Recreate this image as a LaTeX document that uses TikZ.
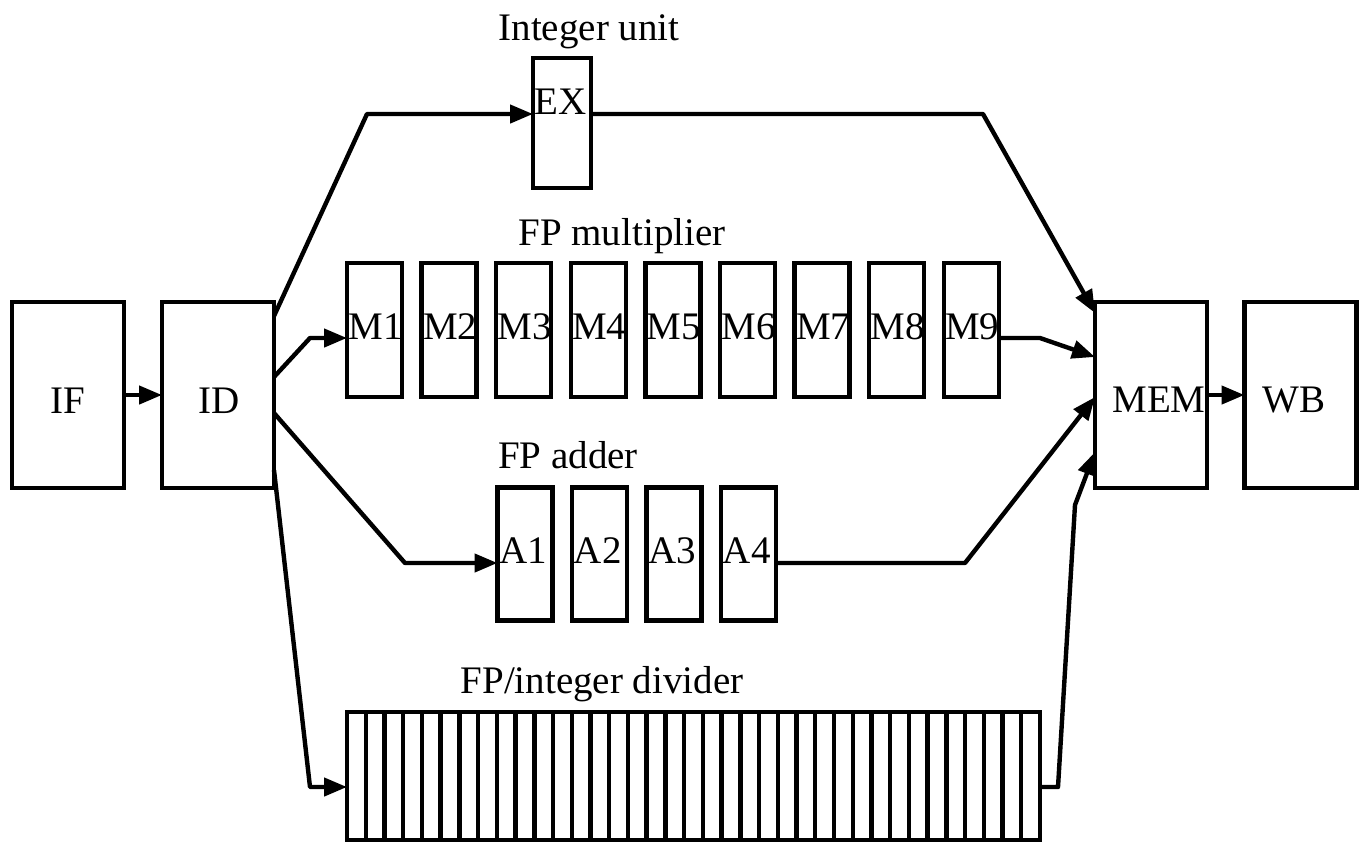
\documentclass[tikz,border=0pt]{standalone}
\usepackage{fontspec}
\setmainfont{Liberation Serif}
\usetikzlibrary{arrows.meta,calc}
\begin{document}
\begin{tikzpicture}[x=0.5pt,y=-0.5pt,
  box/.style={draw,line width=2.2pt,inner sep=0pt,outer sep=0pt,rectangle},
  stage/.style={box,minimum width=56pt,minimum height=93pt},
  unit/.style={box,minimum width=27.5pt,minimum height=67pt},
  lbl/.style={font=\fontsize{19.5}{22}\selectfont,inner sep=0pt},
  arr/.style={line width=2.2pt,line join=round,-{Triangle[length=11.5pt,width=9pt]}}]
\useasboundingbox (0,0) rectangle (1366,842);
% main stages
\node[stage] (IF) at (68,395) {};
\node[stage] (ID) at (218,395) {};
\node[stage] (MEM) at (1151,395) {};
\node[stage] (WB) at (1300.5,395) {};
\node[lbl,anchor=base] (tIF) at (68,413) {IF};
\node[lbl,anchor=base] (tID) at (219,413) {ID};
\node[lbl,anchor=base] (tMEM) at (1159,412) {MEM};
\node[lbl,anchor=base] (tWB) at (1294,412) {WB};
% integer unit
\node[box,minimum width=29pt,minimum height=65pt] (EX) at (562,123) {};
\node[lbl,anchor=base west] (tEX) at (534,114) {EX};
\node[lbl,anchor=base] (hEX) at (589,40) {Integer unit};
% FP multiplier
\foreach \i in {1,...,9}{
  \node[unit] (M\i) at ({347+27.5+74.6*(\i-1)},330) {};
  \node[lbl,anchor=base west] (tM\i) at ({348+74.6*(\i-1)},339) {M\i};
}
\node[lbl,anchor=base] (hM) at (622,245) {FP multiplier};
% FP adder
\foreach \i in {1,...,4}{
  \node[unit,minimum height=66.5pt] (A\i) at ({497+28+74.5*(\i-1)},554) {};
  \node[lbl,anchor=base west] (tA\i) at ({499+74.5*(\i-1)},563) {A\i};
}
\node[lbl,anchor=base] (hA) at (568,468) {FP adder};
% divider
\node[box,minimum width=346.5pt,minimum height=64pt] (DIV) at (693.5,776) {};
\foreach \k in {1,...,36}{
  \draw[line width=2.2pt] ($(DIV.north west)+(\k*18.73,0)$) -- ($(DIV.south west)+(\k*18.73,0)$);
}
\node[lbl,anchor=base] (hD) at (602,693) {FP/integer divider};
% connectors
\draw[arr] (IF.east) -- (ID.west);
\draw[arr] (MEM.east) -- (WB.west);
\draw[arr] ([yshift=39.5pt]ID.east) -- (367,114) -- ([yshift=4.5pt]EX.west);
\draw[arr] ([yshift=4.5pt]EX.east) -- (983,114) -- ([yshift=41pt]MEM.west);
\draw[arr] ([yshift=9pt]ID.east) -- (310,338) -- ([yshift=-4pt]M1.west);
\draw[arr] ([yshift=-4pt]M9.east) -- (1040,338) -- ([yshift=19pt]MEM.west);
\draw[arr] ([yshift=-9pt]ID.east) -- (405,563) -- ([yshift=-4.5pt]A1.west);
\draw[arr] ([yshift=-4.5pt]A4.east) -- (965,563) -- ([yshift=-1pt]MEM.west);
\draw[arr] ([yshift=-37.5pt]ID.east) -- (310,787) -- ([yshift=-5.5pt]DIV.west);
\draw[arr] ([yshift=-5.5pt]DIV.east) -- (1058,787) -- (1075,505) -- ([yshift=-28.5pt]MEM.west);
\end{tikzpicture}
\end{document}
